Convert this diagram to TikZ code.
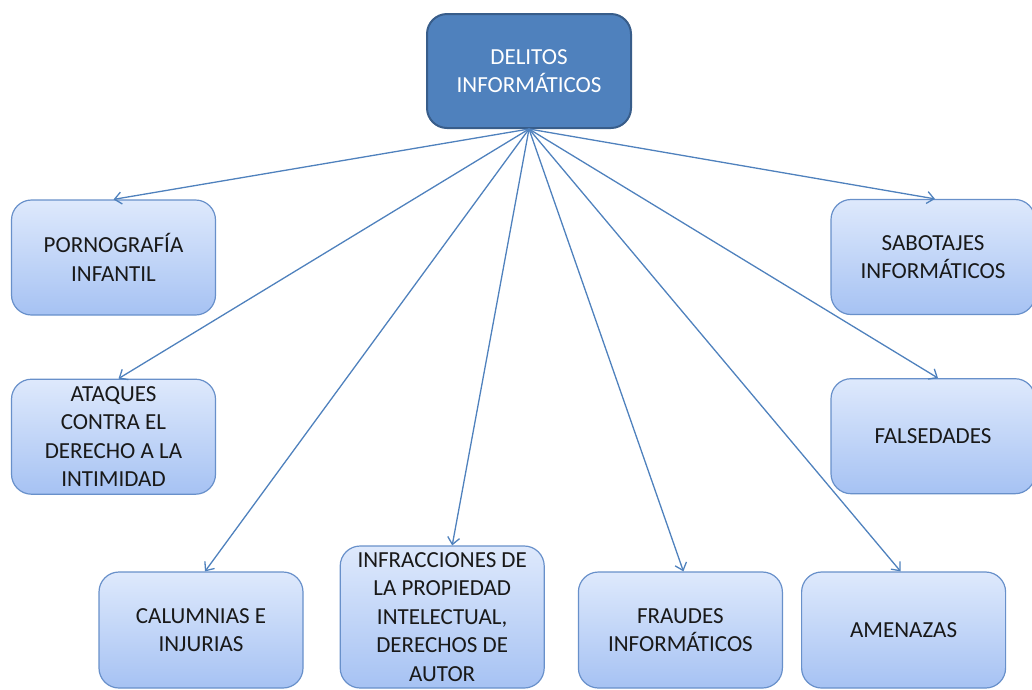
\documentclass[tikz,border=0pt]{standalone}
\usepackage{fontspec}
\setmainfont{Carlito}
\usetikzlibrary{positioning,arrows.meta}
\definecolor{boxtop}{RGB}{222,233,252}
\definecolor{boxbot}{RGB}{166,194,243}
\definecolor{boxline}{RGB}{104,144,202}
\definecolor{mainfill}{RGB}{79,129,189}
\definecolor{mainline}{RGB}{56,93,138}
\definecolor{linkcol}{RGB}{79,129,189}

\begin{document}
\begin{tikzpicture}[
  x=1pt, y=-1pt,
  box/.style={draw=boxline, line width=1.2pt, rounded corners=20pt, align=center, top color=boxtop, bottom color=boxbot, text=black!90, minimum width=204pt, minimum height=115pt, inner sep=2pt},
  tallbox/.style={box, minimum height=142pt},
  mainbox/.style={draw=mainline, line width=2pt, rounded corners=20pt, align=center, fill=mainfill, text=white, minimum width=204pt, minimum height=114pt},
  arrow/.style={-{Straight Barb[length=7pt, width=12pt]}, draw=linkcol, line width=1.3pt},
  every node/.style={font=\fontsize{23}{28.5}\selectfont},
]
  \useasboundingbox (0,0) rectangle (1032,689);

  \node[mainbox] (delitos) at (529,71) {DELITOS\\INFORMÁTICOS};

  \node[box] (porno) at (113.5,257.5) {PORNOGRAFÍA\\INFANTIL};
  \node[box, below=63pt of porno] (ataques) {ATAQUES\\CONTRA EL\\DERECHO A LA\\INTIMIDAD};

  \node[box] (sabotajes) at (933,257) {SABOTAJES\\INFORMÁTICOS};
  \node[box, below=63pt of sabotajes] (falsedades) {FALSEDADES};

  \node[box, minimum height=116pt] (calumnias) at (201,630) {CALUMNIAS E\\INJURIAS};
  \node[tallbox, above right=0pt and 36pt of calumnias.south east] (infracciones) {INFRACCIONES DE\\LA PROPIEDAD\\INTELECTUAL,\\DERECHOS DE\\AUTOR};
  \node[box, minimum height=116pt, above right=0pt and 33pt of infracciones.south east] (fraudes) {FRAUDES\\INFORMÁTICOS};
  \node[box, minimum height=116pt, right=18pt of fraudes] (amenazas) {AMENAZAS};

  \draw[arrow] (delitos.south) -- (porno.north);
  \draw[arrow] (delitos.south) -- ([xshift=5pt]ataques.north);
  \draw[arrow] (delitos.south) -- ([xshift=4pt]calumnias.north);
  \draw[arrow] (delitos.south) -- ([xshift=10pt]infracciones.north);
  \draw[arrow] (delitos.south) -- ([xshift=3pt]fraudes.north);
  \draw[arrow] (delitos.south) -- ([xshift=-3pt]amenazas.north);
  \draw[arrow] (delitos.south) -- ([xshift=5pt]falsedades.north);
  \draw[arrow] (delitos.south) -- ([xshift=2pt]sabotajes.north);
\end{tikzpicture}
\end{document}
